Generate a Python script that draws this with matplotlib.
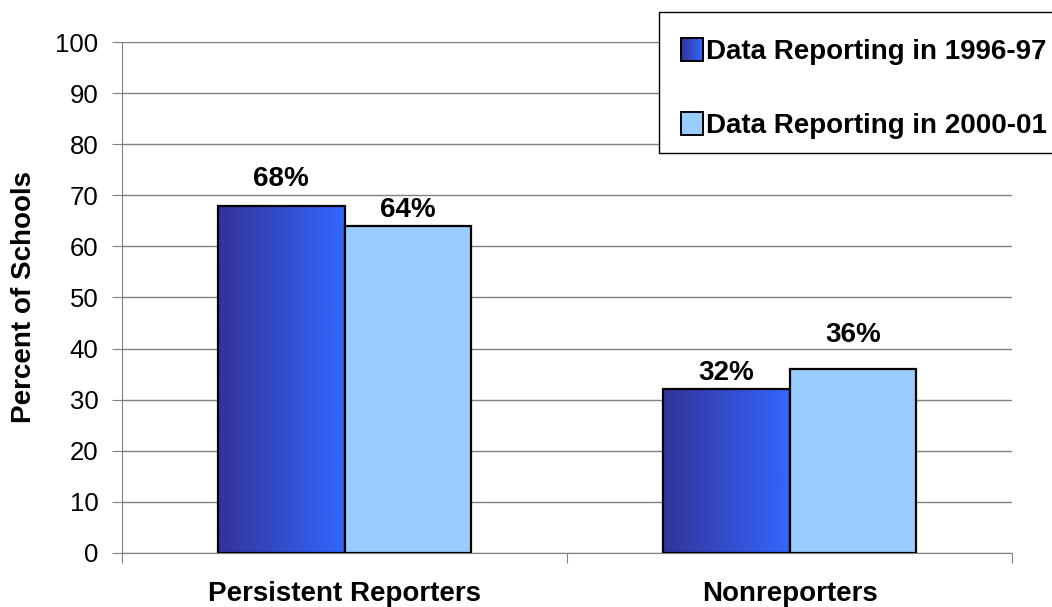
import numpy as np
import matplotlib.pyplot as plt
from matplotlib.colors import LinearSegmentedColormap
from matplotlib.patches import Rectangle
from matplotlib.legend_handler import HandlerBase

plt.rcParams['font.family'] = ['Liberation Sans', 'DejaVu Sans']

# data
categories = ['Persistent Reporters', 'Nonreporters']
series_names = ['Data Reporting in 1996-97', 'Data Reporting in 2000-01']
values_9697 = [68, 32]
values_0001 = [64, 36]

# the labels in the original sit at uneven heights above their bars (points)
label_gap_9697 = [14, 6.5]
label_gap_0001 = [6.5, 19.5]

dark_left = '#333399'
dark_right = '#3366FF'
light = '#99CCFF'
grad = LinearSegmentedColormap.from_list('grad', [dark_left, dark_right])


class GradientHandler(HandlerBase):
    """legend square with the same left-to-right gradient"""
    def create_artists(self, legend, orig_handle, xdescent, ydescent,
                       width, height, fontsize, trans):
        size = height * 1.15
        x0 = -xdescent + width - size
        y0 = -ydescent + (height - size) / 2
        artists = []
        n = 12
        for i in range(n):
            r = Rectangle((x0 + size * i / n, y0), size / n + 0.3, size,
                          facecolor=grad(i / (n - 1)), edgecolor='none',
                          transform=trans)
            artists.append(r)
        artists.append(Rectangle((x0, y0), size, size, facecolor='none',
                                 edgecolor='black', lw=1.4, transform=trans))
        return artists


class SquareHandler(HandlerBase):
    def create_artists(self, legend, orig_handle, xdescent, ydescent,
                       width, height, fontsize, trans):
        size = height * 1.15
        x0 = -xdescent + width - size
        y0 = -ydescent + (height - size) / 2
        return [Rectangle((x0, y0), size, size, facecolor=light,
                          edgecolor='black', lw=1.4, transform=trans)]


fig = plt.figure(figsize=(10.52, 6.07), dpi=100)
ax = fig.add_axes([0.116, 0.0890, 0.846, 0.8418])

x = np.arange(len(categories))
w = 0.285

bars1 = ax.bar(x - w / 2, values_9697, w, facecolor='none',
               edgecolor='black', lw=1.6, zorder=4)
bars2 = ax.bar(x + w / 2, values_0001, w, facecolor=light,
               edgecolor='black', lw=1.6, zorder=4)

# gradient fill for the first series, clipped to each bar
g = np.linspace(0, 1, 256).reshape(1, -1)
for b in bars1:
    bx, by = b.get_x(), b.get_y()
    im = ax.imshow(g, cmap=grad, aspect='auto', zorder=3,
                   extent=[bx, bx + b.get_width(), by, by + b.get_height()])
    im.set_clip_path(b)

ax.set_xlim(-0.5, 1.5)
ax.set_ylim(0, 100)

# value labels
for b, v, gap in zip(list(bars1) + list(bars2), values_9697 + values_0001,
                     label_gap_9697 + label_gap_0001):
    ax.annotate(f'{v}%', (b.get_x() + b.get_width() / 2, b.get_height()),
                xytext=(0, gap), textcoords='offset points',
                ha='center', va='baseline', fontsize=20, fontweight='bold')

ax.set_yticks(np.arange(0, 101, 10))
ax.yaxis.grid(True, color='#808080', lw=1)
ax.set_axisbelow(True)
ax.tick_params(axis='y', labelsize=18.5, length=7, color='#808080', pad=10)

# x ticks at the category boundaries, labels at the centres
ax.set_xticks([-0.5, 0.5, 1.5])
ax.set_xticklabels([])
ax.set_xticks(x, minor=True)
ax.set_xticklabels(categories, minor=True, fontsize=20, fontweight='bold')
ax.tick_params(axis='x', which='major', length=7, color='#808080')
ax.tick_params(axis='x', which='minor', length=0, pad=20)

for s in ['top', 'right']:
    ax.spines[s].set_visible(False)
ax.spines['left'].set_color('#808080')
ax.spines['bottom'].set_color('#808080')

ax.set_ylabel('Percent of Schools', fontsize=20, fontweight='bold')
ax.yaxis.set_label_coords(-0.096, 0.5)

# legend box (runs off the right edge of the figure like the original)
fig.patches.append(Rectangle((659 / 1052, 1 - 153 / 607), 0.5, 141 / 607,
                             transform=fig.transFigure, facecolor='white',
                             edgecolor='black', lw=1.0, zorder=1))

leg = fig.legend([bars1, bars2], series_names,
                 handler_map={bars1: GradientHandler(), bars2: SquareHandler()},
                 loc='upper left', bbox_to_anchor=(659 / 1052, 1 - 21 / 607),
                 frameon=False, prop={'size': 20, 'weight': 'bold'},
                 handlelength=0.95, handletextpad=0.1, labelspacing=1.73,
                 borderpad=0.65, borderaxespad=0)

fig.savefig('out.png', dpi=100)
